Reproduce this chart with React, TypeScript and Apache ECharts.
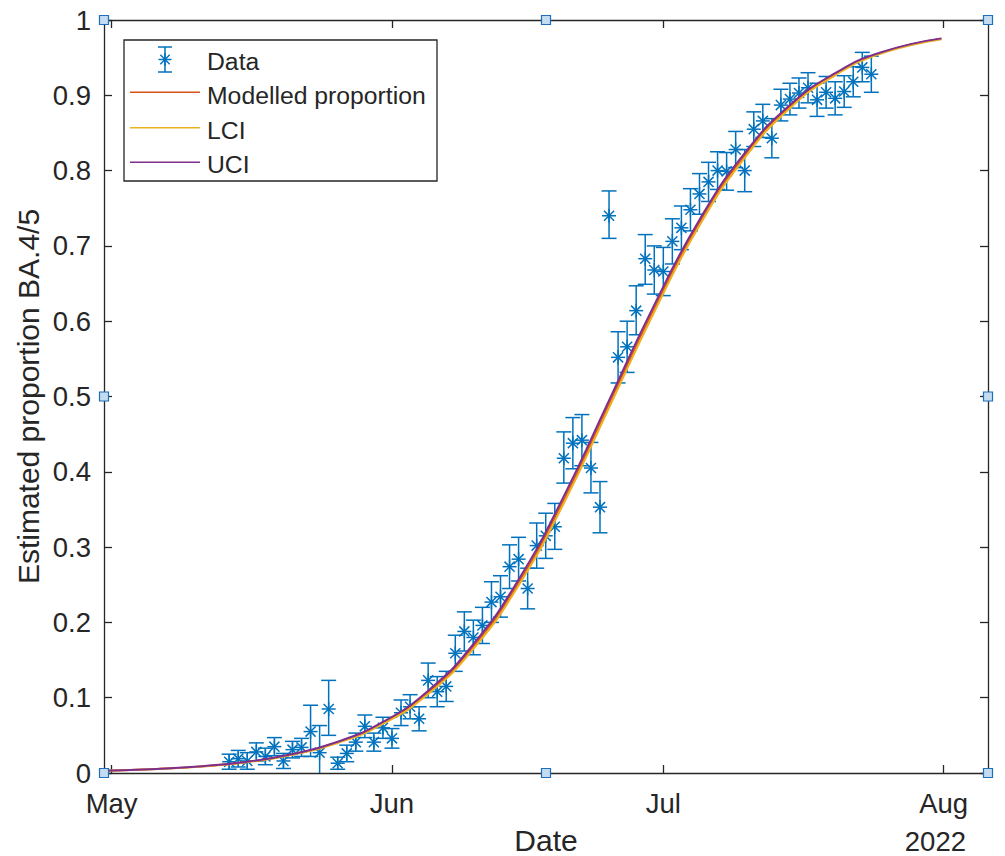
import React, { useEffect, useRef } from 'react';
import * as echarts from 'echarts';

// ---------- DATA ----------
const dataDates = [
  '2022-05-14', '2022-05-15', '2022-05-16', '2022-05-17', '2022-05-18', '2022-05-19', '2022-05-20', '2022-05-21', '2022-05-22',
  '2022-05-23', '2022-05-24', '2022-05-25', '2022-05-26', '2022-05-27', '2022-05-28', '2022-05-29', '2022-05-30', '2022-05-31',
  '2022-06-01', '2022-06-02', '2022-06-03', '2022-06-04', '2022-06-05', '2022-06-06', '2022-06-07', '2022-06-08', '2022-06-09',
  '2022-06-10', '2022-06-11', '2022-06-12', '2022-06-13', '2022-06-14', '2022-06-15', '2022-06-16', '2022-06-17', '2022-06-18',
  '2022-06-19', '2022-06-20', '2022-06-21', '2022-06-22', '2022-06-23', '2022-06-24', '2022-06-25', '2022-06-26', '2022-06-27',
  '2022-06-28', '2022-06-29', '2022-06-30', '2022-07-01', '2022-07-02', '2022-07-03', '2022-07-04', '2022-07-05', '2022-07-06',
  '2022-07-07', '2022-07-08', '2022-07-09', '2022-07-10', '2022-07-11', '2022-07-12', '2022-07-13', '2022-07-14', '2022-07-15',
  '2022-07-16', '2022-07-17', '2022-07-18', '2022-07-19', '2022-07-20', '2022-07-21', '2022-07-22', '2022-07-23', '2022-07-24',
];
const dataValues = [
  0.015, 0.019, 0.016, 0.028, 0.022, 0.035, 0.016, 0.031, 0.034, 0.055, 0.027, 0.085, 0.013, 0.026, 0.041, 0.062, 0.041, 0.06,
  0.046, 0.08, 0.088, 0.072, 0.123, 0.108, 0.115, 0.159, 0.188, 0.18, 0.196, 0.227, 0.234, 0.274, 0.284, 0.245, 0.302, 0.315,
  0.327, 0.418, 0.438, 0.442, 0.405, 0.353, 0.74, 0.552, 0.566, 0.614, 0.683, 0.668,
  0.666, 0.706, 0.724, 0.748, 0.769, 0.785, 0.8, 0.799, 0.828, 0.8, 0.855, 0.866, 0.843, 0.887, 0.895, 0.903, 0.91, 0.894,
  0.904, 0.896, 0.905, 0.918, 0.937, 0.928,
];
const dataLower = [
  0.005, 0.008, 0.005, 0.016, 0.011, 0.023, 0.006, 0.02, 0.022, 0.022, -0.01, 0.05, 0.005, 0.015, 0.029, 0.047, 0.029, 0.046,
  0.033, 0.063, 0.072, 0.056, 0.1, 0.088, 0.095, 0.135, 0.162, 0.157, 0.172, 0.2, 0.207, 0.245, 0.255, 0.218, 0.272, 0.285,
  0.297, 0.385, 0.404, 0.408, 0.372, 0.319, 0.71, 0.518, 0.532, 0.582, 0.649, 0.636,
  0.634, 0.676, 0.695, 0.72, 0.742, 0.759, 0.775, 0.774, 0.804, 0.772, 0.832, 0.844, 0.817, 0.866, 0.874, 0.883, 0.89, 0.872,
  0.883, 0.874, 0.884, 0.898, 0.918, 0.904,
];
const dataUpper = [
  0.025, 0.03, 0.027, 0.04, 0.033, 0.047, 0.026, 0.042, 0.046, 0.09, 0.063, 0.123, 0.021, 0.037, 0.053, 0.077, 0.053, 0.074,
  0.059, 0.097, 0.104, 0.088, 0.146, 0.128, 0.135, 0.183, 0.214, 0.203, 0.22, 0.254, 0.262, 0.303, 0.313, 0.272, 0.332, 0.345,
  0.358, 0.453, 0.472, 0.476, 0.439, 0.387, 0.773, 0.586, 0.6, 0.647, 0.715, 0.7,
  0.698, 0.736, 0.753, 0.776, 0.796, 0.811, 0.825, 0.824, 0.852, 0.828, 0.878, 0.888, 0.869, 0.908, 0.916, 0.923, 0.93, 0.916,
  0.925, 0.918, 0.926, 0.938, 0.957, 0.952,
];

const modelDates = [
  '2022-04-30T03:50:00Z', '2022-05-06', '2022-05-11', '2022-05-16', '2022-05-21', '2022-05-26', '2022-05-31', '2022-06-05',
  '2022-06-10', '2022-06-15', '2022-06-20', '2022-06-25', '2022-06-30', '2022-07-05', '2022-07-10', '2022-07-15',
  '2022-07-20', '2022-07-25', '2022-07-31T18:00:00Z',
];
const modelValues = [
  0.0029, 0.0053, 0.0088, 0.0147, 0.0246, 0.0407, 0.0665, 0.107, 0.168, 0.253, 0.363, 0.49, 0.617, 0.731, 0.82, 0.885,
  0.928, 0.956, 0.975,
];
const lciValues = [
  0.0028, 0.0052, 0.0086, 0.0144, 0.0241, 0.0399, 0.0652, 0.1048, 0.1649, 0.249, 0.3583, 0.4851, 0.6123, 0.7272, 0.8169,
  0.8829, 0.9266, 0.9552, 0.9744,
];
const uciValues = [
  0.003, 0.0054, 0.009, 0.015, 0.0251, 0.0415, 0.0678, 0.1092, 0.1711, 0.257, 0.3677, 0.4949, 0.6217, 0.7348, 0.8231,
  0.8871, 0.9294, 0.9568, 0.9756,
];

const xTickDates = ['2022-05-01', '2022-06-01', '2022-07-01', '2022-08-01'];
const xTickLabels = ['May', 'Jun', 'Jul', 'Aug'];
const xMinDate = '2022-04-30T03:50:00Z';
const xMaxDate = '2022-08-05T21:36:00Z';
const yearLabel = '2022';
const yTickValues = [0, 0.1, 0.2, 0.3, 0.4, 0.5, 0.6, 0.7, 0.8, 0.9, 1];

const seriesNames = ['Data', 'Modelled proportion', 'LCI', 'UCI'];
const xTitle = 'Date';
const yTitle = 'Estimated proportion BA.4/5';

// ---------- STYLE ----------
const FONT = '"Liberation Sans", Arial, Helvetica, sans-serif';
const AX = '#262626';
const BLUE = '#0072BD';
const COLORS = ['#D95319', '#EDB120', '#7E2F8E'];
const G = { left: 104, top: 20, width: 884, height: 753 };

const ts = (s: string) => new Date(s.length === 10 ? s + 'T00:00:00Z' : s).getTime();

function starLines(cx: number, cy: number, r: number, style: any) {
  const d = r * 0.72;
  return [
    { type: 'line', shape: { x1: cx - r, y1: cy, x2: cx + r, y2: cy }, style },
    { type: 'line', shape: { x1: cx, y1: cy - r, x2: cx, y2: cy + r }, style },
    { type: 'line', shape: { x1: cx - d, y1: cy - d, x2: cx + d, y2: cy + d }, style },
    { type: 'line', shape: { x1: cx - d, y1: cy + d, x2: cx + d, y2: cy - d }, style },
  ];
}

export default function App() {
  const ref = useRef<HTMLDivElement>(null);
  useEffect(() => {
    if (!ref.current) return;
    const chart = echarts.init(ref.current, undefined, { renderer: 'svg' });
    const xTicks = xTickDates.map(ts);
    const errData = dataDates.map((d, i) => [ts(d), dataValues[i], dataLower[i], dataUpper[i]]);
    const mk = (vals: number[]) => modelDates.map((d, i) => [ts(d), vals[i]]);

    const barStyle = { stroke: BLUE, lineWidth: 1.5, fill: 'none' };

    const xLabelFmt = (v: number) => {
      const i = xTicks.findIndex((t) => Math.abs(t - v) < 3600e3);
      return i >= 0 ? xTickLabels[i] : '';
    };

    const baseX = {
      type: 'value',
      min: ts(xMinDate),
      max: ts(xMaxDate),
      scale: true,
      axisLine: { show: true, onZero: false, lineStyle: { color: AX, width: 1.3 } },
      axisTick: { show: true, inside: true, length: 8, lineStyle: { color: AX, width: 1.3 }, customValues: xTicks },
      splitLine: { show: false },
      minorTick: { show: false },
    };
    const baseY = {
      type: 'value',
      min: 0,
      max: 1,
      interval: 0.1,
      axisLine: { show: true, onZero: false, lineStyle: { color: AX, width: 1.3 } },
      axisTick: { show: true, inside: true, length: 8, lineStyle: { color: AX, width: 1.3 } },
      splitLine: { show: false },
    };

    // legend graphic
    const lx = 124, ly = 40, lw = 313, lh = 141;
    const rows = [61, 95.5, 130.5, 164.5];
    const lineYs = [0, 92.3, 127.7, 162.3];
    const legendChildren: any[] = [
      { type: 'rect', shape: { x: lx, y: ly, width: lw, height: lh }, style: { fill: '#fff', stroke: AX, lineWidth: 1.3 } },
      { type: 'line', shape: { x1: 165, y1: 47, x2: 165, y2: 72 }, style: barStyle },
      { type: 'line', shape: { x1: 158, y1: 47, x2: 172, y2: 47 }, style: barStyle },
      { type: 'line', shape: { x1: 158, y1: 72, x2: 172, y2: 72 }, style: barStyle },
      ...starLines(165, 59.5, 6.5, barStyle),
    ];
    seriesNames.forEach((n, i) => {
      if (i > 0) {
        legendChildren.push({
          type: 'line',
          shape: { x1: 130, y1: lineYs[i], x2: 200, y2: lineYs[i] },
          style: { stroke: COLORS[i - 1], lineWidth: 1.5 },
        });
      }
      legendChildren.push({
        type: 'text',
        x: 207,
        y: rows[i],
        style: { text: n, fill: AX, font: `24.75px ${FONT}`, textAlign: 'left', textVerticalAlign: 'middle' },
      });
    });

    const handles: any[] = [];
    const hx = [G.left, G.left + G.width / 2, G.left + G.width];
    const hy = [G.top, G.top + G.height / 2, G.top + G.height];
    hx.forEach((x, i) =>
      hy.forEach((y, j) => {
        if (i === 1 && j === 1) return;
        handles.push({
          type: 'rect',
          shape: { x: x - 4.5, y: y - 4.5, width: 9, height: 9 },
          style: { fill: '#c4dcf2', stroke: '#1e6fb8', lineWidth: 1.2 },
          z: 200,
        });
      })
    );

    const option: any = {
      animation: false,
      backgroundColor: '#ffffff',
      grid: { ...G, containLabel: false, outerBoundsMode: 'none' },
      xAxis: [
        {
          ...baseX,
          position: 'bottom',
          axisLabel: {
            show: true,
            customValues: xTicks,
            formatter: xLabelFmt,
            color: AX,
            fontSize: 27.5,
            fontFamily: FONT,
            margin: 16,
          },
        },
        { ...baseX, position: 'top', axisLabel: { show: false } },
      ],
      yAxis: [
        {
          ...baseY,
          position: 'left',
          axisLabel: {
            show: true,
            color: AX,
            fontSize: 27.5,
            fontFamily: FONT,
            margin: 13,
            formatter: (v: number) => {
              const k = yTickValues.findIndex((t) => Math.abs(t - v) < 1e-6);
              return k >= 0 ? String(yTickValues[k]) : '';
            },
          },
        },
        { ...baseY, position: 'right', axisLabel: { show: false } },
      ],
      series: [
        {
          name: seriesNames[0],
          type: 'custom',
          clip: true,
          xAxisIndex: 0,
          yAxisIndex: 0,
          encode: { x: 0, y: 1 },
          data: errData,
          renderItem: (params: any, api: any) => {
            const x = api.value(0);
            const p = api.coord([x, api.value(1)]);
            const lo = api.coord([x, api.value(2)]);
            const hi = api.coord([x, api.value(3)]);
            const cap = 7.5;
            return {
              type: 'group',
              children: [
                { type: 'line', shape: { x1: lo[0], y1: lo[1], x2: hi[0], y2: hi[1] }, style: barStyle },
                { type: 'line', shape: { x1: lo[0] - cap, y1: lo[1], x2: lo[0] + cap, y2: lo[1] }, style: barStyle },
                { type: 'line', shape: { x1: hi[0] - cap, y1: hi[1], x2: hi[0] + cap, y2: hi[1] }, style: barStyle },
                ...starLines(p[0], p[1], 7, barStyle),
              ],
            };
          },
        },
        ...[modelValues, lciValues, uciValues].map((vals, i) => ({
          name: seriesNames[i + 1],
          type: 'line',
          data: mk(vals),
          smooth: true,
          showSymbol: false,
          symbol: 'none',
          lineStyle: { color: COLORS[i], width: 2 },
          itemStyle: { color: COLORS[i] },
        })),
      ],
      graphic: [
        { type: 'group', z: 150, children: legendChildren },
        {
          type: 'text',
          x: 28,
          y: G.top + G.height / 2,
          rotation: Math.PI / 2,
          style: { text: yTitle, fill: AX, font: `30px ${FONT}`, textAlign: 'center', textVerticalAlign: 'middle' },
        },
        {
          type: 'text',
          x: G.left + G.width / 2,
          y: 855,
          style: { text: xTitle, fill: AX, font: `30px ${FONT}`, textAlign: 'center', textVerticalAlign: 'bottom' },
        },
        {
          type: 'text',
          x: 966,
          y: 855,
          style: { text: yearLabel, fill: AX, font: `27.5px ${FONT}`, textAlign: 'right', textVerticalAlign: 'bottom' },
        },
        ...handles,
      ],
    };
    chart.setOption(option);
    return () => chart.dispose();
  }, []);
  return (
    <div
      ref={ref}
      style={{ position: 'fixed', left: 0, top: 0, width: 1005, height: 856, background: '#fff' }}
    />
  );
}
